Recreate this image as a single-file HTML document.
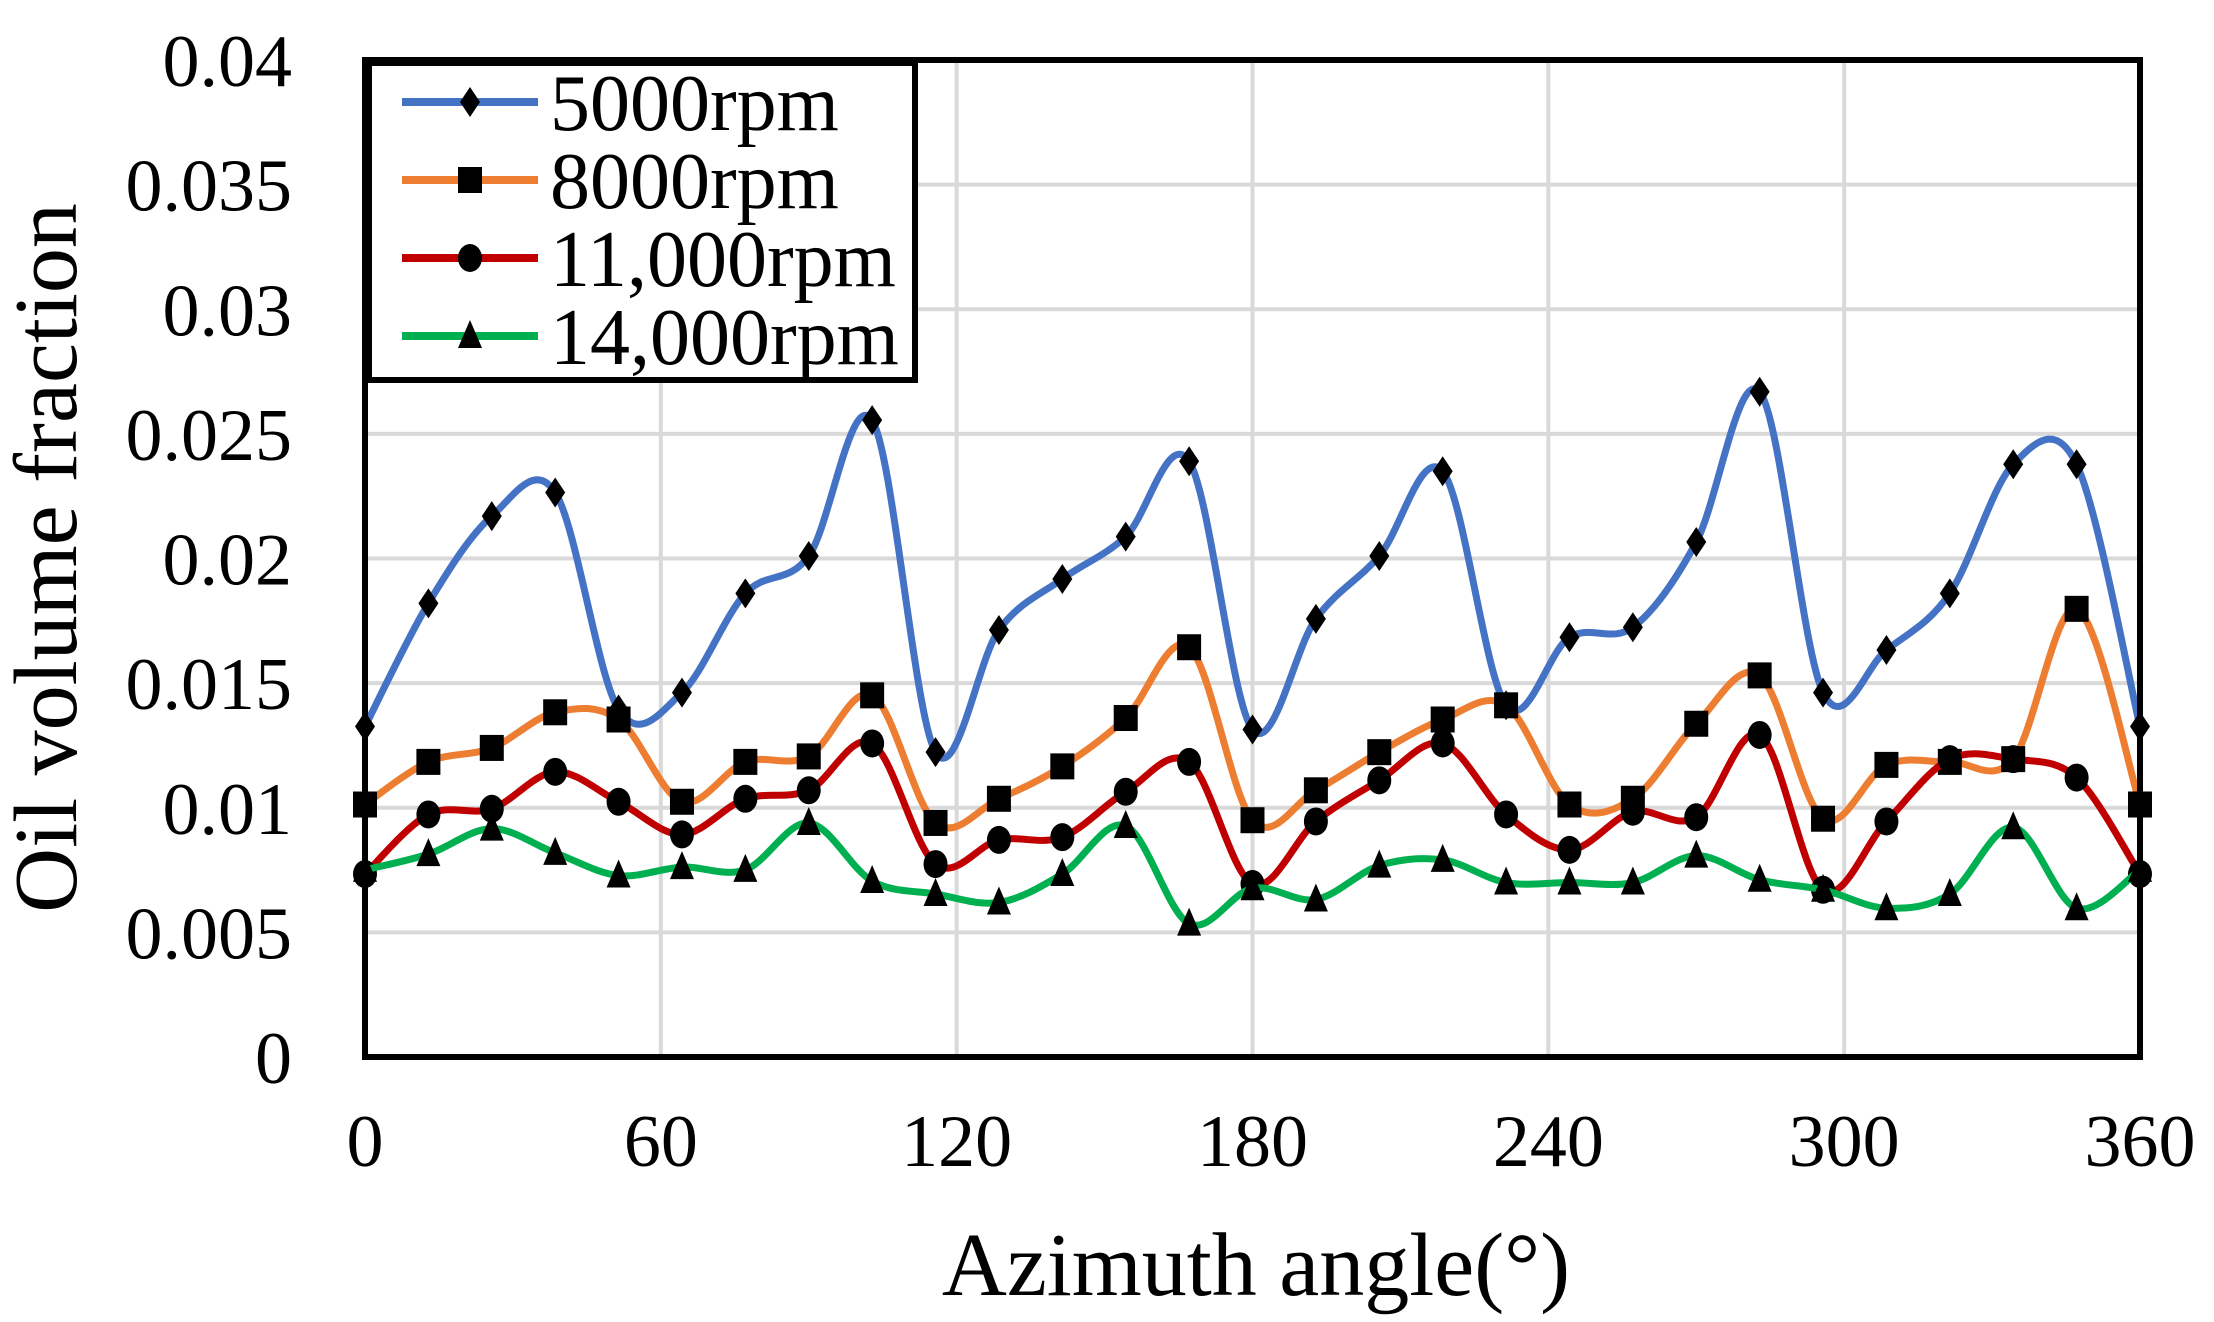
<!DOCTYPE html>
<html><head><meta charset="utf-8"><style>
html,body{margin:0;padding:0;background:#fff;}
svg{display:block;font-family:"Liberation Serif",serif;}
</style></head><body>
<svg id="chart" width="2214" height="1322" viewBox="0 0 2214 1322">
<g id="grid"></g>
<g id="series"></g>
<rect x="365" y="60" width="1775" height="997" fill="none" stroke="#000" stroke-width="6"/>
<g id="ticks"></g>
<text x="1256" y="1295" font-size="90" text-anchor="middle">Azimuth angle(°)</text>
<text x="0" y="0" font-size="90" text-anchor="middle" transform="translate(76,558) rotate(-90)">Oil volume fraction</text>
<g id="legend"></g>
</svg>
<script>
const xTicks=[0,60,120,180,240,300,360];
const yTicks=[0,0.005,0.01,0.015,0.02,0.025,0.03,0.035,0.04];
const yTickLabels=["0","0.005","0.01","0.015","0.02","0.025","0.03","0.035","0.04"];
const seriesNames=["5000rpm","8000rpm","11,000rpm","14,000rpm"];
const seriesColors=["#4472c4","#ed7d31","#c00000","#00b050"];
const markers=["diamond","square","circle","triangle"];
const s5000=[0.01326,0.0182,0.0217,0.02265,0.01394,0.01462,0.0186,0.0201,0.02555,0.01223,0.01713,0.01918,0.02088,0.0239,0.01314,0.01758,0.0201,0.0235,0.01411,0.01684,0.01724,0.02066,0.02669,0.01462,0.01633,0.0186,0.02378,0.02378,0.01326];
const s8000=[0.01013,0.01184,0.0124,0.01383,0.01354,0.01024,0.01184,0.01206,0.01451,0.00939,0.01036,0.01166,0.0136,0.01644,0.0095,0.0107,0.01223,0.01354,0.01411,0.01013,0.01036,0.01337,0.01531,0.00956,0.01172,0.01184,0.01195,0.01798,0.01013];
const s11000=[0.00734,0.00973,0.00996,0.01144,0.01024,0.00893,0.01036,0.0107,0.01258,0.00774,0.00871,0.00882,0.01064,0.01184,0.00694,0.00945,0.0111,0.01258,0.00973,0.00831,0.00984,0.00962,0.01292,0.00671,0.00945,0.01195,0.01195,0.01121,0.00734];
const s14000=[0.00751,0.00814,0.00916,0.00819,0.00728,0.00762,0.00751,0.00939,0.00706,0.00654,0.0062,0.00734,0.00927,0.00535,0.00677,0.00632,0.00768,0.00791,0.007,0.007,0.007,0.00808,0.00711,0.00671,0.00597,0.00654,0.00922,0.00597,0.00751];
const allSeries=[s5000,s8000,s11000,s14000];
const NS="http://www.w3.org/2000/svg";
const X0=365,X1=2140,Y0=1057,Y1=60;
function px(a){return X0+a/360*(X1-X0);}
function py(v){return Y0-v/0.04*(Y0-Y1);}
function mk(t,attrs,parent){const e=document.createElementNS(NS,t);for(const k in attrs)e.setAttribute(k,attrs[k]);parent.appendChild(e);return e;}
const grid=document.getElementById('grid'),ticks=document.getElementById('ticks'),ser=document.getElementById('series'),leg=document.getElementById('legend');
xTicks.forEach(t=>{
  const l=mk('line',{x1:px(t),x2:px(t),y1:Y1,y2:Y0,stroke:'#d9d9d9','stroke-width':4},grid);
  
  
  const tx=mk('text',{x:px(t),y:1166,'font-size':74,'text-anchor':'middle'},ticks);
  tx.textContent=t;
  
  
});
yTicks.forEach((t,i)=>{
  const l=mk('line',{x1:X0,x2:X1,y1:py(t),y2:py(t),stroke:'#d9d9d9','stroke-width':4},grid);
  
  
  const tx=mk('text',{x:292,y:py(t)+26,'font-size':74,'text-anchor':'end'},ticks);
  tx.textContent=yTickLabels[i];
  
  
});
function marker(type,x,y,parent){
  let e;
  if(type==='diamond')e=mk('polygon',{points:`${x},${y-15} ${x+10},${y} ${x},${y+15} ${x-10},${y}`,fill:'#000'},parent);
  else if(type==='square')e=mk('rect',{x:x-12,y:y-13,width:24,height:26,fill:'#000'},parent);
  else if(type==='circle')e=mk('ellipse',{cx:x,cy:y,rx:12,ry:14,fill:'#000'},parent);
  else e=mk('polygon',{points:`${x},${y-16} ${x+12},${y+12} ${x-12},${y+12}`,fill:'#000'},parent);
  return e;
}
function smoothPath(pts){
  let d=`M${pts[0][0]},${pts[0][1]}`;
  for(let i=0;i<pts.length-1;i++){
    const p0=pts[Math.max(0,i-1)],p1=pts[i],p2=pts[i+1],p3=pts[Math.min(pts.length-1,i+2)];
    const t=1/6;
    d+=` C${p1[0]+(p2[0]-p0[0])*t},${p1[1]+(p2[1]-p0[1])*t} ${p2[0]-(p3[0]-p1[0])*t},${p2[1]-(p3[1]-p1[1])*t} ${p2[0]},${p2[1]}`;
  }
  return d;
}
allSeries.forEach((s,si)=>{
  const g=mk('g',{},ser);
  
  
  const n=s.length;
  const pts=s.map((v,i)=>[px(i*360/(n-1)),py(v)]);
  const p=mk('path',{d:smoothPath(pts),fill:'none',stroke:seriesColors[si],'stroke-width':7},g);
  
  
  pts.forEach(q=>{
    const m=marker(markers[si],q[0],q[1],g);
    
    
  });
});
const lb=mk('rect',{x:369,y:63,width:546,height:317,fill:'#fff',stroke:'#000','stroke-width':6},leg);


seriesNames.forEach((nm,i)=>{
  const cy=102+i*78;
  const g=mk('g',{},leg);
  
  
  mk('line',{x1:402,x2:538,y1:cy,y2:cy,stroke:seriesColors[i],'stroke-width':8},g);
  marker(markers[i],470,cy,g);
  const t=mk('text',{x:550,y:cy+28,'font-size':80},g);
  t.textContent=nm;
});
</script>
</body></html>
